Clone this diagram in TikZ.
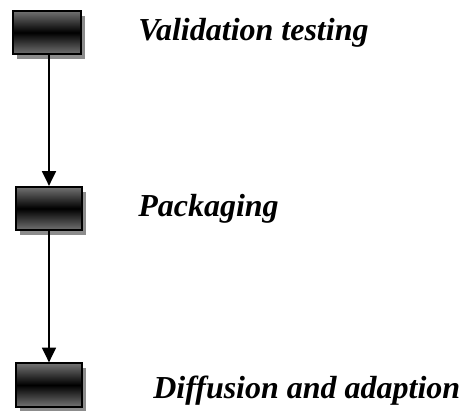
\documentclass[tikz,border=0pt]{standalone}
\usepackage{fontspec}
\setmainfont{Liberation Serif}
\usetikzlibrary{arrows.meta,shadows}
\begin{document}
\begin{tikzpicture}[x=0.75pt,y=-0.75pt,
  stagebox/.style={draw=black,line width=1.5pt,minimum width=49.5pt,minimum height=32.5pt,inner sep=0pt,
    top color=black!55,bottom color=black!55,middle color=black,
    drop shadow={shadow xshift=3pt,shadow yshift=-3.5pt,fill=black!45,opacity=1}},
  stagelabel/.style={anchor=base west,inner sep=0pt,font=\fontsize{24}{28}\selectfont\bfseries\itshape},
  flow/.style={line width=1.1pt,-{Triangle[width=10.5pt,length=11pt]}}]
\useasboundingbox (0,0) rectangle (463,411);
\fill[white] (0,0) rectangle (463,411);
\node[stagebox,minimum width=51pt] (b1) at (47,32.5) {};
\node[stagebox] (b2) at (49,208.5) {};
\node[stagebox] (b3) at (49,385) {};
\node[stagelabel] (t1) at (138,40) {Validation testing};
\node[stagelabel] (t2) at (138,216) {Packaging};
\node[stagelabel] (t3) at (153,398) {Diffusion and adaption};
\draw[flow] (b1.south -| b2.north) -- (b2.north);
\draw[flow] (b2.south) -- (b3.north);
\end{tikzpicture}
\end{document}
